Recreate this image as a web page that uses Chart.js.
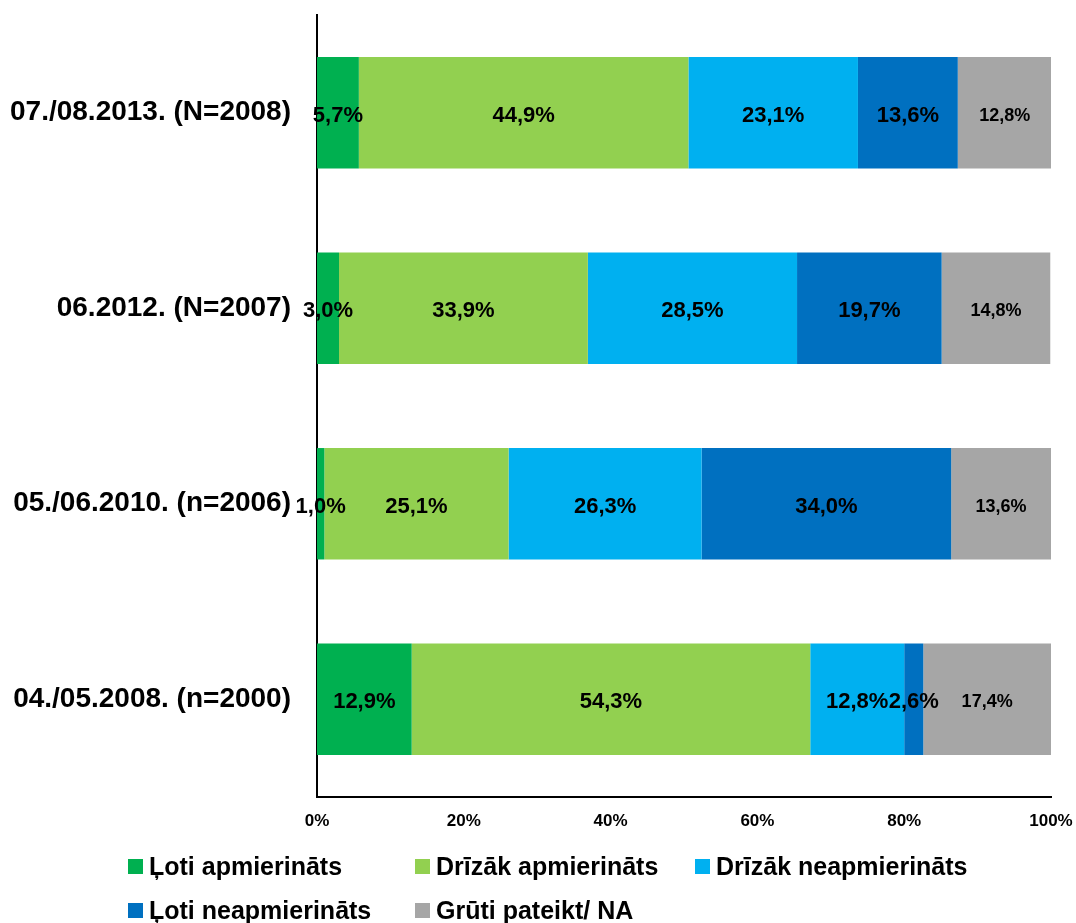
<!DOCTYPE html>
<html>
<head>
<meta charset="utf-8">
<script src="https://cdn.jsdelivr.net/npm/chart.js@4"></script>
<style>
  body { margin: 0; background: #fff; }
  #wrap { position: relative; width: 1076px; height: 923px; }
  #legend { position: absolute; left: 0; top: 0; width: 1076px; height: 923px; pointer-events: none;
    font-family: 'Liberation Sans', Arial, sans-serif; font-weight: bold; font-size: 25px; color: #000; }
  .li { position: absolute; display: flex; align-items: center; white-space: nowrap; }
  .sw { width: 15px; height: 15px; margin-right: 6px; }
</style>
</head>
<body>
<div id="wrap">
  <canvas id="chart" width="1076" height="923"></canvas>
  <div id="legend"></div>
</div>
<script>
const periods = ['07./08.2013. (N=2008)', '06.2012. (N=2007)', '05./06.2010. (n=2006)', '04./05.2008. (n=2000)']
const seriesNames = ['Ļoti apmierināts', 'Drīzāk apmierināts', 'Drīzāk neapmierināts', 'Ļoti neapmierināts', 'Grūti pateikt/ NA']
const seriesColors = ['#00B050', '#92D050', '#00B0F0', '#0070C0', '#A6A6A6']

const lotiApm = [5.7, 3.0, 1.0, 12.9]
const drizakApm = [44.9, 33.9, 25.1, 54.3]
const drizakNeapm = [23.1, 28.5, 26.3, 12.8]
const lotiNeapm = [13.6, 19.7, 34.0, 2.6]
const gruti = [12.8, 14.8, 13.6, 17.4]

const xTicks = [0, 20, 40, 60, 80, 100]

const allValues = [lotiApm, drizakApm, drizakNeapm, lotiNeapm, gruti]

// draw value labels in the middle of each segment
const valueLabels = {
  id: 'valueLabels',
  afterDatasetsDraw(chart) {
    const ctx = chart.ctx
    ctx.save()
    ctx.fillStyle = '#000'
    ctx.textAlign = 'center'
    ctx.textBaseline = 'middle'
    chart.data.datasets.forEach((ds, i) => {
      const meta = chart.getDatasetMeta(i)
      ctx.font = (i === 4 ? 'bold 18px' : 'bold 22px') + " 'Liberation Sans', Arial, sans-serif"
      meta.data.forEach((bar, j) => {
        const cx = (bar.x + bar.base) / 2
        ctx.fillText(ds.data[j].toFixed(1).replace('.', ',') + '%', cx, bar.y + 3)
      })
    })
    ctx.restore()
  }
}

const chart = new Chart(document.getElementById('chart'), {
  type: 'bar',
  data: {
    labels: periods,
    datasets: allValues.map((vals, i) => ({
      label: seriesNames[i],
      data: vals,
      backgroundColor: seriesColors[i],
      borderWidth: 0,
      barPercentage: 0.57,
      categoryPercentage: 1
    }))
  },
  options: {
    indexAxis: 'y',
    responsive: false,
    animation: false,
    layout: { padding: { top: 15, right: 25, bottom: 86, left: 0 } },
    plugins: {
      legend: { display: false },
      tooltip: { enabled: false }
    },
    scales: {
      x: {
        stacked: true,
        min: 0,
        max: 100,
        afterBuildTicks: s => { s.ticks = xTicks.map(v => ({ value: v })) },
        grid: { display: false, drawTicks: false },
        border: { color: '#000', width: 2 },
        ticks: {
          padding: 14,
          color: '#000',
          font: { family: "'Liberation Sans', Arial, sans-serif", weight: 'bold', size: 17 },
          callback: v => v + '%'
        },
        afterFit: s => { s.height = 40; s.paddingLeft = 0; s.paddingRight = 0 }
      },
      y: {
        stacked: true,
        grid: { display: false, drawTicks: false },
        border: { color: '#000', width: 2 },
        ticks: {
          padding: 26,
          color: '#000',
          font: { family: "'Liberation Sans', Arial, sans-serif", weight: 'bold', size: 28 }
        },
        afterFit: s => { s.width = 317; s.paddingTop = 0; s.paddingBottom = 0 }
      }
    }
  },
  plugins: [valueLabels]
})

// legend, laid out like the original: 3 items on the first row, 2 on the second
const legendSpots = [[128, 866], [415, 866], [695, 866], [128, 910], [415, 910]]
const legendBox = document.getElementById('legend')
chart.data.datasets.forEach((ds, i) => {
  const item = document.createElement('div')
  item.className = 'li'
  item.style.left = legendSpots[i][0] + 'px'
  item.style.top = (legendSpots[i][1] - 15) + 'px'
  item.style.height = '30px'
  const sw = document.createElement('span')
  sw.className = 'sw'
  sw.style.background = ds.backgroundColor
  const txt = document.createElement('span')
  txt.textContent = ds.label
  item.appendChild(sw)
  item.appendChild(txt)
  legendBox.appendChild(item)
})
</script>
</body>
</html>
